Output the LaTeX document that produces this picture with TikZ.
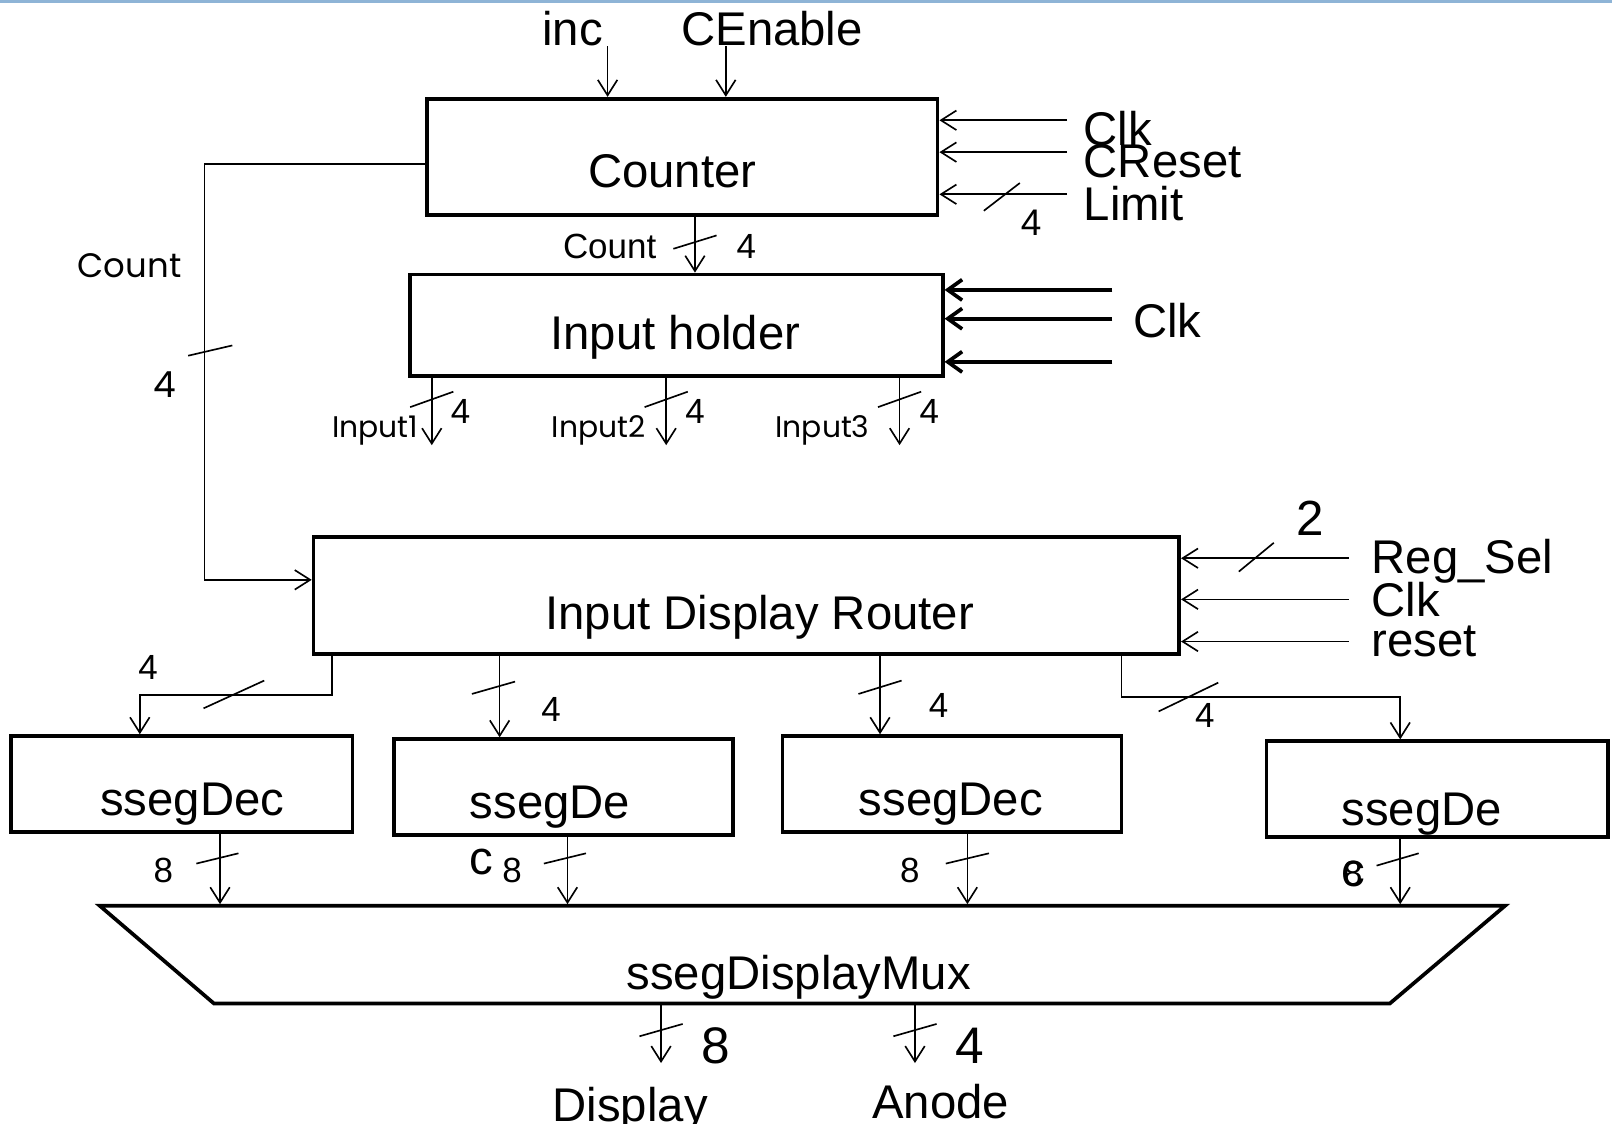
\documentclass[tikz,border=0pt]{standalone}
\usepackage{fontspec}
\setmainfont{Liberation Sans}
\newfontfamily\geofont{Poppins}
\usetikzlibrary{arrows.meta}
\newcommand\fsz[1]{\fontsize{#1}{#1}\selectfont}
\definecolor{rulebl}{RGB}{142,180,214}

\begin{document}
\begin{tikzpicture}[x=1pt,y=-1pt,
  blk/.style={draw, line width=3.6pt, inner sep=0pt},
  sig/.style={line width=1.6pt, -{Straight Barb[length=15pt,width=19pt]}},
  bus/.style={line width=4pt, -{Straight Barb[length=14pt,width=20pt,line width=3.6pt]}},
  tick/.style={line width=1.6pt},
  txt/.style={inner sep=0pt, anchor=base, font=\fsz{46}},
  txtw/.style={inner sep=0pt, anchor=base west, font=\fsz{46}},
  small/.style={inner sep=0pt, anchor=base, font=\fsz{34}},
  geo/.style={inner sep=0pt, anchor=base, font=\geofont\fsz{33}},
]
\useasboundingbox (0,0) rectangle (1568,1093);
\draw[rulebl, line width=2.5pt] (0,1.2) -- (1568,1.2);

% ---------- blocks ----------
\node[blk, minimum width=497, minimum height=113] (counter) at (663.5,152.5) {};
\node[blk, minimum width=518, minimum height=99]  (holder)  at (658,316.5) {};
\node[blk, minimum width=842, minimum height=114] (router)  at (726,579) {};
\node[blk, minimum width=332, minimum height=93]  (s1) at (177,762.5) {};
\node[blk, minimum width=330, minimum height=93]  (s2) at (548,765.5) {};
\node[blk, minimum width=330, minimum height=93]  (s3) at (926,762.5) {};
\node[blk, minimum width=332, minimum height=93]  (s4) at (1398,767.5) {};
\draw[line width=3.6pt, line join=miter] (97,881) -- (1464,881) -- (1352,976) -- (208,976) -- cycle;
\coordinate (muxtop) at (0,879.5);
\coordinate (muxbot) at (0,977);

\node[txt] (tcounter) at (654,182) {Counter};
\node[txt] (tholder)  at (657,340) {Input holder};
\node[txt] (trouter)  at (739,612) {Input Display Router};
\node[txt] (ts1) at (187,793) {ssegDec};
\node[txt] (ts2) at (535,796) {ssegDe};
\node[txt] (ts3) at (925,793) {ssegDec};
\node[txt] (ts4) at (1383,803) {ssegDe};
\node[txt] (ts2c) at (468,851) {c};
\node[txt] (ts4c) at (1316,862) {c};
\node[txt] (tmux) at (777,962) {ssegDisplayMux};

% ---------- counter ----------
\coordinate (incIn) at (591,45);
\coordinate (ceIn)  at (706,45);
\draw[sig] (incIn) -- (incIn |- counter.north);
\draw[sig] (ceIn) -- (ceIn |- counter.north);
\node[txt] (tinc) at (557,44) {inc};
\node[txt] (tce)  at (751,44) {CEnable};

\coordinate (cClk) at (1038,117);
\coordinate (cRst) at (1038,148);
\coordinate (cLim) at (1038,189);
\draw[sig] (cClk) -- (cClk -| counter.east);
\draw[sig] (cRst) -- (cRst -| counter.east);
\draw[sig] (cLim) -- (cLim -| counter.east);
\draw[tick] (957,205) -- (992,178);
\node[txtw] (tcclk) at (1054,142) {Clk};
\node[txtw] (tcrst) at (1054,173) {CReset};
\node[txtw] (tclim) at (1054,214) {Limit};
\node[small, font=\fsz{36}] (tlimw) at (1003,229) {4};

% counter -> input holder
\coordinate (cnt) at (676,0);
\draw[sig] (cnt |- counter.south) -- (cnt |- holder.north);
\draw[tick] (655,242) -- (697,229);
\node[small] (tcnt) at (593,251) {Count};
\node[small] (tcntw) at (726,251) {4};

% ---------- input holder ----------
\coordinate (hA) at (1082,282);
\coordinate (hB) at (1082,310);
\coordinate (hC) at (1082,352);
\draw[bus] (hA) -- (hA -| holder.east);
\draw[bus] (hB) -- (hB -| holder.east);
\draw[bus] (hC) -- (hC -| holder.east);
\node[txtw] (thclk) at (1102,328) {Clk};

\coordinate (h1) at (420,433);
\coordinate (h2) at (648,433);
\coordinate (h3) at (875,433);
\draw[sig] (h1 |- holder.south) -- (h1);
\draw[sig] (h2 |- holder.south) -- (h2);
\draw[sig] (h3 |- holder.south) -- (h3);
\draw[tick] (399,396) -- (441,381);
\draw[tick] (627,396) -- (669,381);
\draw[tick] (854,396) -- (896,381);
\node[geo, anchor=base east, font=\geofont\fsz{29}] (ti1) at (407,426) {Input1};
\node[geo, anchor=base east, font=\geofont\fsz{29}] (ti2) at (628,426) {Input2};
\node[geo, anchor=base east, font=\geofont\fsz{29}] (ti3) at (846,426) {Input3};
\node[small] (ti1w) at (448,412) {4};
\node[small] (ti2w) at (676,412) {4};
\node[small] (ti3w) at (904,412) {4};

% ---------- count feedback ----------
\coordinate (fbTop) at (199,159.5);
\coordinate (fbBot) at (199,564);
\draw[sig] (counter.west |- fbTop) -- (fbTop) -- (fbBot) -- (fbBot -| router.west);
\draw[tick] (183,346) -- (226,336);
\node[geo] (tfb) at (126,270) {Count};
\node[geo, font=\geofont\fsz{35}] (tfbw) at (160,387) {4};

% ---------- router inputs ----------
\coordinate (rSel) at (1312,543);
\coordinate (rClk) at (1312,583);
\coordinate (rRst) at (1312,624);
\draw[sig] (rSel) -- (rSel -| router.east);
\draw[sig] (rClk) -- (rClk -| router.east);
\draw[sig] (rRst) -- (rRst -| router.east);
\draw[tick] (1205,556) -- (1239,528);
\node[txt, font=\fsz{48}] (tselw) at (1274,521) {2};
\node[txtw] (tsel) at (1334,558) {Reg\_Sel};
\node[txtw] (trclk) at (1334,600) {Clk};
\node[txtw] (trrst) at (1334,639) {reset};

% ---------- router outputs ----------
\coordinate (ra) at (323,676);
\coordinate (ra2) at (136,676);
\draw[sig] (ra |- router.south) -- (ra) -- (ra2) -- (ra2 |- s1.north);
\draw[tick] (198,689) -- (257,662);
\node[small] (traw) at (144,661) {4};

\coordinate (rb) at (486,0);
\draw[sig] (rb |- router.south) -- (rb |- s2.north);
\draw[tick] (459,675) -- (501,663);
\node[small] (trbw) at (536,702) {4};

\coordinate (rc) at (856,0);
\draw[sig] (rc |- router.south) -- (rc |- s3.north);
\draw[tick] (835,675) -- (877,662);
\node[small] (trcw) at (913,698) {4};

\coordinate (rd) at (1091,678);
\coordinate (rd2) at (1362,678);
\draw[sig] (rd |- router.south) -- (rd) -- (rd2) -- (rd2 |- s4.north);
\draw[tick] (1127,692) -- (1185,664);
\node[small] (trdw) at (1172,708) {4};

% ---------- decoder outputs ----------
\coordinate (o1) at (214,0);
\coordinate (o2) at (552,0);
\coordinate (o3) at (941,0);
\coordinate (o4) at (1362,0);
\draw[sig] (o1 |- s1.south) -- (o1 |- muxtop);
\draw[sig] (o2 |- s2.south) -- (o2 |- muxtop);
\draw[sig] (o3 |- s3.south) -- (o3 |- muxtop);
\draw[sig] (o4 |- s4.south) -- (o4 |- muxtop);
\draw[tick] (191,840) -- (232,830);
\draw[tick] (529,840) -- (570,830);
\draw[tick] (920,840) -- (962,830);
\draw[tick] (1339,842) -- (1380,830);
\node[small] (to1) at (159,858) {8};
\node[small] (to2) at (498,858) {8};
\node[small] (to3) at (885,858) {8};
\node[small] (to4) at (1316,861) {8};

% ---------- mux outputs ----------
\coordinate (m1) at (643,1034);
\coordinate (m2) at (890,1034);
\draw[sig] (m1 |- muxbot) -- (m1);
\draw[sig] (m2 |- muxbot) -- (m2);
\draw[tick] (622,1008) -- (664,996);
\draw[tick] (869,1008) -- (911,996);
\node[txt, font=\fsz{50}] (tm1w) at (696,1034) {8};
\node[txt, font=\fsz{50}] (tm2w) at (943,1034) {4};
\node[txt] (tdisp) at (613,1091) {Display};
\node[txt] (tanode) at (915,1088) {Anode};
\end{tikzpicture}
\end{document}
